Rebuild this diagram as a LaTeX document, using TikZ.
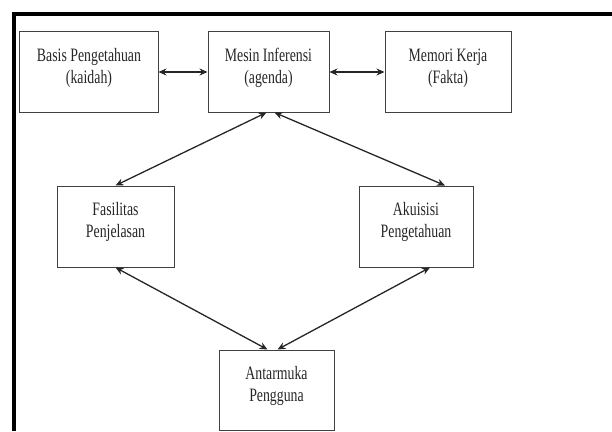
\documentclass[tikz,border=0pt]{standalone}
\usepackage{fontspec}
\usepackage{graphicx}
\setmainfont{Liberation Serif}
\usetikzlibrary{arrows.meta}
\tikzstyle{kotak} = [draw=black!75, line width=1bp, inner sep=0pt, align=center,
    font=\fontsize{19}{22}\selectfont, text=black!85]
\tikzstyle{arrow} = [line width=1.3bp, {Stealth[length=8bp,width=7bp]}-{Stealth[length=8bp,width=7bp]}, draw=black!85]
\newcommand{\sempit}[1]{\scalebox{0.73}[1]{\begin{tabular}{@{}c@{}}#1\end{tabular}}}

\begin{document}
\begin{tikzpicture}[x=1bp, y=1bp]
        \useasboundingbox (0,0) rectangle (612,431);
        % bingkai
        \draw[line width=3.5bp] (612,417) -- (14,417) -- (14,0);
        % kotak
        \node[kotak, minimum width=138bp, minimum height=80bp] (basis) at (89,359)
            {\sempit{Basis Pengetahuan\\(kaidah)}\\[4bp]};
        \node[kotak, minimum width=121bp, minimum height=80bp] (mesin) at (268.5,359)
            {\sempit{Mesin Inferensi\\(agenda)}\\[4bp]};
        \node[kotak, minimum width=126bp, minimum height=80bp] (memori) at (448,359)
            {\sempit{Memori Kerja\\(Fakta)}\\[4bp]};
        \node[kotak, minimum width=117bp, minimum height=81bp] (fasilitas) at (115.5,204.5)
            {\sempit{Fasilitas\\Penjelasan}\\[4bp]};
        \node[kotak, minimum width=114bp, minimum height=81bp] (akuisisi) at (416,204.5)
            {\sempit{Akuisisi\\Pengetahuan}\\[4bp]};
        \node[kotak, minimum width=115bp, minimum height=80bp] (antarmuka) at (276.5,41)
            {\sempit{Antarmuka\\Pengguna}\\[4bp]};
        % panah
        \draw[arrow] (basis.east) -- (mesin.west);
        \draw[arrow] (mesin.east) -- (memori.west);
        \draw[arrow] ([xshift=-2bp]mesin.south) -- (fasilitas.north);
        \draw[arrow] ([xshift=6bp]mesin.south) -- ([xshift=29bp]akuisisi.north);
        \draw[arrow] (fasilitas.south) -- ([xshift=-9bp]antarmuka.north);
        \draw[arrow] ([xshift=14bp]akuisisi.south) -- ([xshift=1bp]antarmuka.north);
    \end{tikzpicture}
\end{document}
